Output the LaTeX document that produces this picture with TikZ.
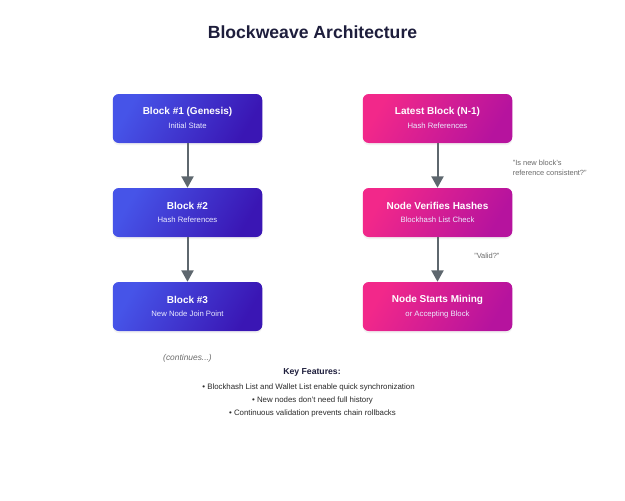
\documentclass[tikz,border=0pt]{standalone}
\usepackage{fontspec}
\setmainfont{Liberation Sans}
\usetikzlibrary{arrows.meta,shadows}
\definecolor{bluetl}{HTML}{4654E8}
\definecolor{bluebr}{HTML}{3A16B4}
\definecolor{pinktl}{HTML}{F2288A}
\definecolor{pinkbr}{HTML}{B6139E}
\definecolor{titlecol}{HTML}{1E1E3C}
\definecolor{arrowcol}{HTML}{5E676E}
\definecolor{notecol}{HTML}{6B6B6B}
\definecolor{textcol}{HTML}{2A2A2A}
\tikzset{
  boxbase/.style={minimum width=149.5*0.75pt, minimum height=49*0.75pt, rounded corners=4.5pt, inner sep=0pt,
    drop shadow={opacity=0.10, shadow xshift=0pt, shadow yshift=-1.5pt}},
  bluebox/.style={boxbase, shading=axis, left color=bluetl, right color=bluebr, shading angle=60},
  pinkbox/.style={boxbase, shading=axis, left color=pinktl, right color=pinkbr, shading angle=60},
  boxtitle/.style={font=\bfseries\fontsize{7.5}{9}\selectfont, text=white, inner sep=0pt},
  boxsub/.style={font=\fontsize{5.8}{7}\selectfont, text=white!92!blue, inner sep=0pt},
  flow/.style={draw=arrowcol, line width=1.5pt, -{Triangle[length=8.5pt,width=9pt]}},
  note/.style={font=\fontsize{5.6}{7.5}\selectfont, text=notecol, inner sep=0pt, align=left},
  bullet/.style={font=\fontsize{5.9}{7}\selectfont, text=textcol, inner sep=0pt}
}
\begin{document}
\begin{tikzpicture}[x=0.75pt,y=-0.75pt]
\useasboundingbox[fill=white] (0,0) rectangle (625,500);
\node[font=\bfseries\fontsize{13.2}{16}\selectfont, text=titlecol, inner sep=0pt] (title) at (312.5,32) {Blockweave Architecture};

% left column
\node[bluebox] (b1) at (187.5,118.5) {};
\node[boxtitle] (b1t) at (187.5,111.5) {Block \#1 (Genesis)};
\node[boxsub] (b1s) at (187.5,126) {Initial State};

\node[bluebox] (b2) at (187.5,212.5) {};
\node[boxtitle] (b2t) at (187.5,205.5) {Block \#2};
\node[boxsub] (b2s) at (187.5,220) {Hash References};

\node[bluebox] (b3) at (187.5,306.5) {};
\node[boxtitle] (b3t) at (187.5,299.5) {Block \#3};
\node[boxsub] (b3s) at (187.5,314) {New Node Join Point};

% right column
\node[pinkbox] (p1) at (437.5,118.5) {};
\node[boxtitle] (p1t) at (437.5,111.5) {Latest Block (N-1)};
\node[boxsub] (p1s) at (437.5,126) {Hash References};

\node[pinkbox] (p2) at (437.5,212.5) {};
\node[boxtitle] (p2t) at (437.5,205.5) {Node Verifies Hashes};
\node[boxsub] (p2s) at (437.5,220) {Blockhash List Check};

\node[pinkbox] (p3) at (437.5,306.5) {};
\node[boxtitle] (p3t) at (437.5,299.5) {Node Starts Mining};
\node[boxsub] (p3s) at (437.5,314) {or Accepting Block};

% arrows
\draw[flow] (b1.south) -- (b2.north);
\draw[flow] (b2.south) -- (b3.north);
\draw[flow] (p1.south) -- (p2.north);
\draw[flow] (p2.south) -- (p3.north);

% notes
\node[note, anchor=west] (n1) at (512.5,168) {"Is new block's\\reference consistent?"};
\node[note, anchor=west] (n2) at (474,256) {"Valid?"};

\node[font=\itshape\fontsize{6.3}{8}\selectfont, text=notecol, inner sep=0pt] (cont) at (187.5,358.5) {(continues...)};

\node[font=\bfseries\fontsize{6.5}{8}\selectfont, text=titlecol, inner sep=0pt] (kf) at (312,372.5) {Key Features:};
\node[bullet] (k1) at (308.5,387.5) {• Blockhash List and Wallet List enable quick synchronization};
\node[bullet] (k2) at (312.5,400.5) {• New nodes don't need full history};
\node[bullet] (k3) at (312.5,413.5) {• Continuous validation prevents chain rollbacks};
\end{tikzpicture}
\end{document}
